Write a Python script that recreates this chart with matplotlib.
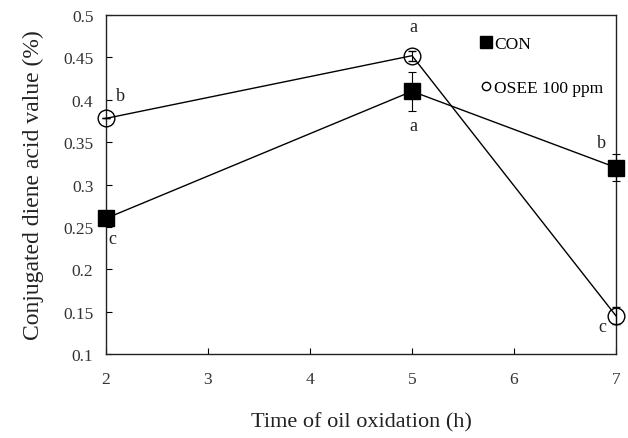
import matplotlib
matplotlib.use("Agg")
import matplotlib.pyplot as plt
from matplotlib.lines import Line2D

hours = [2, 5, 7]
con = [0.26, 0.41, 0.32]
con_err = [0.0, 0.023, 0.016]
osee = [0.378, 0.452, 0.145]
osee_err = [0.0, 0.006, 0.010]

con_letters = ["c", "a", "b"]
con_letter_pos = [(2.06, 0.236), (5.01, 0.370), (6.86, 0.350)]
osee_letters = ["b", "a", "c"]
osee_letter_pos = [(2.14, 0.405), (5.01, 0.486), (6.87, 0.133)]

xticks = [2, 3, 4, 5, 6, 7]
yticks = [0.1, 0.15, 0.2, 0.25, 0.3, 0.35, 0.4, 0.45, 0.5]
ytick_labels = ["0.1", "0.15", "0.2", "0.25", "0.3", "0.35", "0.4", "0.45", "0.5"]

plt.rcParams['font.family'] = ['Liberation Serif', 'DejaVu Serif']

fig = plt.figure(figsize=(6.28, 4.39), dpi=100)
ax = fig.add_axes([106/628, 1-355/439, 510/628, 339/439])

ax.errorbar(hours, con, yerr=con_err, color='black', lw=1.0, marker='s',
            markersize=11, markerfacecolor='black', markeredgecolor='black',
            capsize=3, elinewidth=0.8, capthick=0.8, zorder=3, clip_on=False)
ax.errorbar(hours, osee, yerr=osee_err, color='black', lw=1.0, marker='o',
            markersize=12, markerfacecolor='none', markeredgecolor='black',
            markeredgewidth=1.0, capsize=3, elinewidth=0.8, capthick=0.8,
            zorder=3, clip_on=False)

for t, (x, y) in zip(con_letters, con_letter_pos):
    ax.text(x, y, t, fontsize=13, ha='center', va='center', color='#222222')
for t, (x, y) in zip(osee_letters, osee_letter_pos):
    ax.text(x, y, t, fontsize=13, ha='center', va='center', color='#222222')

ax.set_xlim(2, 7)
ax.set_ylim(0.1, 0.5)
ax.set_xticks(xticks)
ax.set_yticks(yticks)
ax.set_yticklabels(ytick_labels)
ax.tick_params(axis='x', pad=12)
ax.tick_params(axis='y', pad=9)
ax.tick_params(direction='in', length=4, width=0.8, labelsize=12.5,
               labelcolor='#333333', top=False, right=False)
for s in ax.spines.values():
    s.set_linewidth(1.0)
    s.set_color('#222222')

ax.set_xlabel("Time of oil oxidation (h)", fontsize=16, labelpad=18, color='#222222')
ax.set_ylabel("Conjugated diene acid value (%)", fontsize=17, labelpad=14, color='#222222')

handles = [Line2D([], [], ls='none', marker='s', markersize=9, color='black'),
           Line2D([], [], ls='none', marker='o', markersize=6, markerfacecolor='none',
                  markeredgecolor='black')]
ax.legend(handles, ["CON", "OSEE 100 ppm"], loc='upper left',
          bbox_to_anchor=(0.705, 0.985), frameon=False, fontsize=12.5,
          handlelength=0.6, handletextpad=0.15, labelspacing=1.6)

fig.savefig("out.png", dpi=100)
